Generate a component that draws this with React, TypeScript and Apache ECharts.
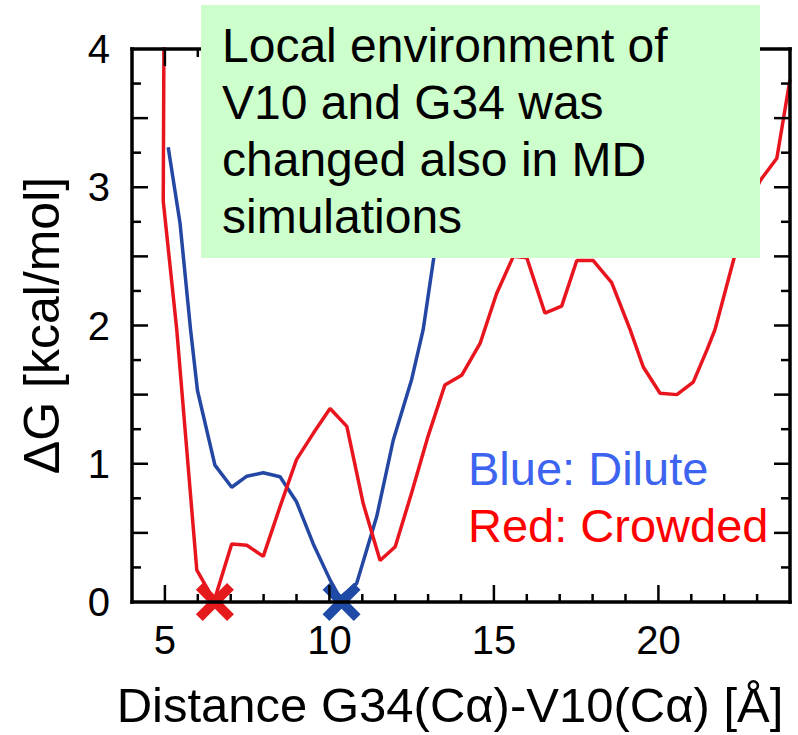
import React, { useEffect, useRef } from "react";
import * as echarts from "echarts";

const blueX = [5.1, 5.46, 5.78, 5.99, 6.52, 7.03, 7.49, 7.99, 8.5, 9.0, 9.51, 10.02, 10.32, 10.83, 11.44, 11.94, 12.5, 12.85, 13.16, 13.6, 14.0, 14.3];
const blueY = [3.29, 2.74, 1.97, 1.53, 0.99, 0.83, 0.91, 0.935, 0.906, 0.725, 0.42, 0.16, 0.03, 0.135, 0.62, 1.17, 1.61, 1.97, 2.47, 3.1, 3.7, 4.2];

const redX = [4.98, 4.95, 5.36, 5.97, 6.5, 7.03, 7.49, 7.99, 8.5, 9.0, 9.51, 10.02, 10.53, 11.03, 11.54, 12.0, 12.5, 13.0, 13.51, 14.02, 14.58, 15.08, 15.59, 16.0, 16.55, 17.06, 17.52, 18.02, 18.58, 19.14, 19.54, 20.05, 20.56, 21.06, 21.47, 21.72, 22.28, 22.8, 23.1, 23.6, 24.0];
const redY = [4.6, 2.9, 1.97, 0.23, 0.01, 0.42, 0.41, 0.33, 0.69, 1.03, 1.22, 1.4, 1.27, 0.71, 0.3, 0.4, 0.79, 1.2, 1.57, 1.64, 1.87, 2.23, 2.5, 2.49, 2.09, 2.14, 2.47, 2.47, 2.31, 1.97, 1.7, 1.51, 1.5, 1.59, 1.82, 1.97, 2.47, 2.9, 3.05, 3.21, 3.78];

const redMinimum = [6.52, 0];
const blueMinimum = [10.37, 0];

const X_MIN = 4;
const X_MAX = 24;
const Y_MIN = 0;
const Y_MAX = 4;
const xTickValues = [5, 6, 7, 8, 9, 10, 11, 12, 13, 14, 15, 16, 17, 18, 19, 20, 21, 22, 23];
const xMajorTicks = [5, 10, 15, 20];
const yTickValues = [0.25, 0.5, 0.75, 1, 1.25, 1.5, 1.75, 2, 2.25, 2.5, 2.75, 3, 3.25, 3.5, 3.75];

const noteLines = ["Local environment of", "V10 and G34 was", "changed also in MD", "simulations"];
const legendBlue = "Blue: Dilute";
const legendRed = "Red: Crowded";

const FONT = "'Liberation Sans', Arial, sans-serif";
const X_PATH = "path://M0,3.6 L3.6,0 L10,6.4 L16.4,0 L20,3.6 L13.6,10 L20,16.4 L16.4,20 L10,13.6 L3.6,20 L0,16.4 L6.4,10 Z";

const INK = "#000000";
const FRAME_W = 3.5;
const TICK_W = 2.5;

function xTickLen(v: number) {
  return xMajorTicks.indexOf(v) >= 0 ? 17 : 8;
}
function yTickLen(v: number) {
  return Math.abs(v * 2 - Math.round(v * 2)) < 1e-6 ? 16 : 9;
}

function inkRect(x: number, y: number, width: number, height: number) {
  return { type: "rect", shape: { x, y, width, height }, style: { fill: INK }, z: 90 };
}

export default function App() {
  const ref = useRef<HTMLDivElement>(null);
  useEffect(() => {
    if (!ref.current) return;
    const chart = echarts.init(ref.current, null, { renderer: "svg" });

    chart.setOption({
      animation: false,
      backgroundColor: "#fff",
      grid: { left: 132, right: 8, top: 49, bottom: 133, containLabel: false },
      xAxis: [
        {
          type: "value",
          min: X_MIN,
          max: X_MAX,
          interval: 1,
          splitLine: { show: false },
          axisLine: { show: false },
          axisTick: { show: false },
          axisLabel: {
            formatter: (v: number) => (v % 5 === 0 ? String(v) : ""),
            fontSize: 40,
            color: "#000",
            margin: 18,
            fontFamily: FONT,
          },
          name: "Distance G34(C\u03b1)-V10(C\u03b1) [\u00c5]",
          nameLocation: "middle",
          nameGap: 78,
          nameTextStyle: { fontSize: 49, color: "#000", fontFamily: FONT, padding: [0, 22, 0, 0] },
        },
      ],
      yAxis: [
        {
          type: "value",
          min: Y_MIN,
          max: Y_MAX,
          interval: 1,
          splitLine: { show: false },
          axisLine: { show: false },
          axisTick: { show: false },
          axisLabel: { fontSize: 40, color: "#000", margin: 22, fontFamily: FONT },
          name: "\u0394G [kcal/mol]",
          nameLocation: "middle",
          nameGap: 65,
          nameTextStyle: { fontSize: 50, color: "#000", fontFamily: FONT },
        },
      ],
      series: [
        {
          type: "line",
          data: blueX.map((x, i) => [x, blueY[i]]),
          showSymbol: false,
          symbol: "none",
          lineStyle: { color: "#2347a3", width: 3.5 },
          z: 2,
        },
        {
          type: "line",
          data: redX.map((x, i) => [x, redY[i]]),
          showSymbol: false,
          symbol: "none",
          lineStyle: { color: "#e8151f", width: 3.5 },
          z: 3,
        },
        {
          type: "scatter",
          data: [redMinimum],
          symbol: X_PATH,
          symbolSize: 38,
          itemStyle: { color: "#e41a1c", opacity: 1 },
          z: 5,
        },
        {
          type: "scatter",
          data: [blueMinimum],
          symbol: X_PATH,
          symbolSize: 38,
          itemStyle: { color: "#1f4aa6", opacity: 1 },
          z: 5,
        },
      ],
    });

    // Frame and inward ticks, positioned through the chart's own scales
    const px = (x: number, y: number) => chart.convertToPixel({ gridIndex: 0 }, [x, y]) as number[];
    const bl = px(X_MIN, Y_MIN);
    const tr = px(X_MAX, Y_MAX);
    const h = FRAME_W / 2;
    const w = tr[0] - bl[0];
    const ht = bl[1] - tr[1];
    const axisGraphics: any[] = [
      inkRect(bl[0] - h, bl[1] - h, w + FRAME_W, FRAME_W),
      inkRect(bl[0] - h, tr[1] - h, w + FRAME_W, FRAME_W),
      inkRect(bl[0] - h, tr[1] - h, FRAME_W, ht + FRAME_W),
      inkRect(tr[0] - h, tr[1] - h, FRAME_W, ht + FRAME_W),
    ];
    xTickValues.forEach((v) => {
      const len = xTickLen(v);
      const b = px(v, Y_MIN);
      const t = px(v, Y_MAX);
      axisGraphics.push(inkRect(b[0] - TICK_W / 2, b[1] - len, TICK_W, len));
      axisGraphics.push(inkRect(t[0] - TICK_W / 2, t[1], TICK_W, len));
    });
    yTickValues.forEach((v) => {
      const len = yTickLen(v);
      const l = px(X_MIN, v);
      const r = px(X_MAX, v);
      axisGraphics.push(inkRect(l[0], l[1] - TICK_W / 2, len, TICK_W));
      axisGraphics.push(inkRect(r[0] - len, r[1] - TICK_W / 2, len, TICK_W));
    });

    chart.setOption({
      graphic: [
        ...axisGraphics,
        {
          type: "rect",
          shape: { x: 201, y: 5, width: 559, height: 253 },
          style: { fill: "#ccffcc" },
          z: 100,
        },
        {
          type: "text",
          x: 222,
          y: 17,
          style: {
            text: noteLines.join("\n"),
            font: `48px ${FONT}`,
            fill: "#000",
            lineHeight: 57,
            verticalAlign: "top",
          },
          z: 101,
        },
        {
          type: "text",
          x: 468,
          y: 468,
          style: { text: legendBlue, font: `47px ${FONT}`, fill: "#3c64f0", verticalAlign: "middle" },
          z: 101,
        },
        {
          type: "text",
          x: 468,
          y: 525,
          style: { text: legendRed, font: `47px ${FONT}`, fill: "#ff0000", verticalAlign: "middle" },
          z: 101,
        },
      ],
    });
    return () => chart.dispose();
  }, []);
  return <div ref={ref} style={{ position: "fixed", left: 0, top: 0, width: 798, height: 735 }} />;
}
